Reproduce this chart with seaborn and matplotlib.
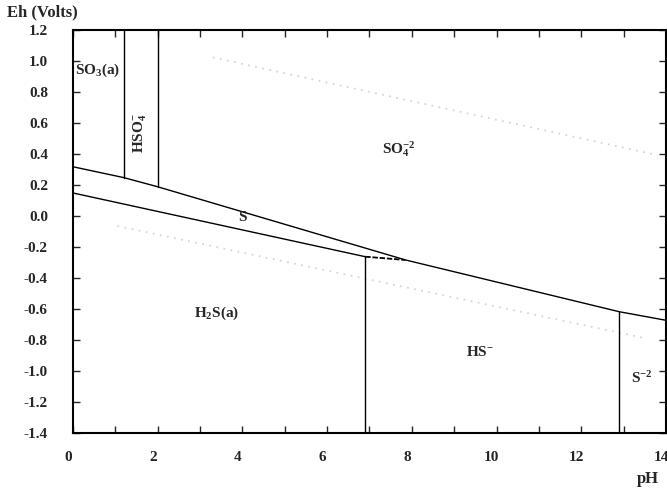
import matplotlib
matplotlib.use("Agg")
import numpy as np
import pandas as pd
import seaborn as sns
from matplotlib import pyplot as plt
from matplotlib.ticker import MultipleLocator
from matplotlib.transforms import ScaledTranslation

# boundary lines of the Eh-pH diagram (pH, Eh in volts)
upper_ph = [0.0, 1.2, 2.0, 7.85, 12.9, 14.0]
upper_eh = [0.315, 0.245, 0.186, -0.286, -0.62, -0.675]
lower_ph = [0.0, 6.9]
lower_eh = [0.146, -0.265]
joint_ph = [6.9, 7.85]
joint_eh = [-0.265, -0.286]
vert_ph = [1.2, 2.0, 6.9, 12.9]
vert_top = [1.2, 1.2, -0.265, -0.62]
vert_bottom = [0.245, 0.186, -1.4, -1.4]

# faint water stability lines
o2_ph = [3.3, 13.8]
o2_eh = [1.02, 0.39]
h2_ph = [1.05, 13.5]
h2_eh = [-0.067, -0.79]

labels = [r"SO$_3$(a)", r"HSO$_4^{-}$", r"SO$_4^{-2}$", "S", r"H$_2$S(a)", r"HS$^{-}$", r"S$^{-2}$"]
label_ph = [0.05, 1.6, 7.7, 4.0, 3.4, 9.6, 13.42]
label_eh = [0.94, 0.53, 0.43, -0.01, -0.63, -0.88, -1.05]

x_ticks = [0, 2, 4, 6, 8, 10, 12, 14]
y_ticks = [1.2, 1.0, 0.8, 0.6, 0.4, 0.2, 0.0, -0.2, -0.4, -0.6, -0.8, -1.0, -1.2, -1.4]

sns.set_theme(style="ticks")
plt.rcParams["font.family"] = ["Liberation Serif", "DejaVu Serif"]
plt.rcParams["font.weight"] = "bold"
plt.rcParams["mathtext.default"] = "regular"

segs = [("upper", upper_ph, upper_eh), ("lower", lower_ph, lower_eh)]
for i, (p, t, b) in enumerate(zip(vert_ph, vert_top, vert_bottom)):
    segs.append((f"v{i}", [p, p], [b, t]))
rows = []
for name, xs, ys in segs:
    for k, (x, y) in enumerate(zip(xs, ys)):
        rows.append({"segment": name, "order": k, "pH": x, "Eh": y})
df = pd.DataFrame(rows)

fig = plt.figure(figsize=(6.67, 4.88), dpi=100)
ax = fig.add_axes([0.1094, 0.1133, 0.8891, 0.8262])

sns.lineplot(data=pd.DataFrame({"pH": o2_ph, "Eh": o2_eh}), x="pH", y="Eh", ax=ax,
             color="#d6d6d6", lw=1.3, linestyle=(0, (1, 3)))
sns.lineplot(data=pd.DataFrame({"pH": h2_ph, "Eh": h2_eh}), x="pH", y="Eh", ax=ax,
             color="#d6d6d6", lw=1.3, linestyle=(0, (1, 3)))
sns.lineplot(data=df, x="pH", y="Eh", units="segment", estimator=None, sort=False,
             ax=ax, color="black", lw=1.0)
sns.lineplot(x=joint_ph, y=joint_eh, ax=ax, color="black", lw=1.3, linestyle=(0, (3, 1)))

for txt, x, y in zip(labels, label_ph, label_eh):
    rot = 90 if "HSO" in txt else 0
    ha = "left" if txt.startswith("SO$_3") else "center"
    ax.text(x, y, txt, ha=ha, va="center", rotation=rot, fontsize=11, fontweight="bold")

ax.set_xlim(0, 14)
ax.set_ylim(-1.4, 1.2)
ax.set_xticks(x_ticks)
ax.set_yticks(y_ticks)
ax.set_yticklabels([f"{v:.1f}" for v in y_ticks])
ax.xaxis.set_minor_locator(MultipleLocator(1))
ax.tick_params(which="both", direction="in", top=True, right=True, length=5, width=1,
               labelsize=11)
ax.tick_params(axis="x", which="major", pad=13)
ax.tick_params(axis="y", which="major", pad=18)
for lab in ax.get_xticklabels():
    lab.set_transform(lab.get_transform() + ScaledTranslation(-0.05, 0, fig.dpi_scale_trans))
for sp in ax.spines.values():
    sp.set_linewidth(1.5)
    sp.set_color("black")
ax.set_xlabel("")
ax.set_ylabel("")
fig.text(7 / 667, 1 - 12 / 488, "Eh (Volts)", ha="left", va="center", fontsize=12, fontweight="bold")
fig.text(648 / 667, 1 - 479 / 488, "pH", ha="center", va="center", fontsize=12, fontweight="bold")

fig.savefig("out.png", dpi=100, facecolor="white")
